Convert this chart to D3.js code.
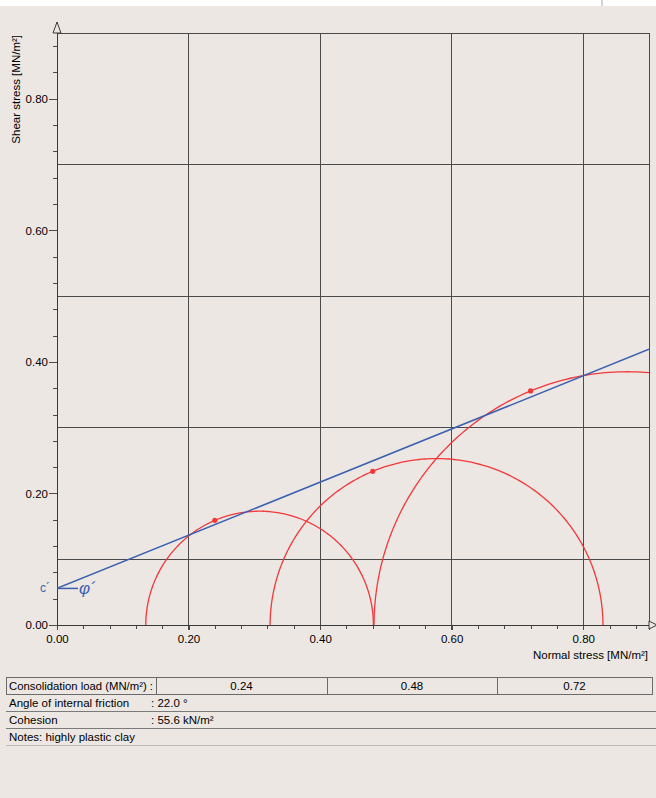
<!DOCTYPE html>
<html><head><meta charset="utf-8">
<script src="https://cdn.jsdelivr.net/npm/d3@7"></script>
<style>
html,body{margin:0;padding:0;background:#ece7e3;}
svg{display:block;}
text{font-family:"Liberation Sans",Arial,Helvetica,sans-serif;}
</style></head><body>
<script>
// ---- data ----
const consolidationLoads = [0.24, 0.48, 0.72];      // MN/m²
const sigma3 = [0.135, 0.324, 0.482];               // minor principal stress (circle left)
const sigma1 = [0.481, 0.830, 1.252];               // major principal stress (circle right)
const cohesion = 0.0556;                            // MN/m²
const frictionAngle = 22.0;                         // degrees
const xTickLabels = [0.00, 0.20, 0.40, 0.60, 0.80];
const yTickLabels = [0.00, 0.20, 0.40, 0.60, 0.80];
const vGrid = [0.2, 0.4, 0.6, 0.8, 0.9];
const hGrid = [0.1, 0.3, 0.5, 0.7, 0.9];
const tableRows = [
  ["Angle of internal friction", ": 22.0 °"],
  ["Cohesion", ": 55.6 kN/m²"],
  ["Notes: highly plastic clay", ""]
];

const W = 656, H = 798;
const FS = "11.5px";
const svg = d3.select("body").append("svg").attr("width", W).attr("height", H);
svg.append("rect").attr("width", W).attr("height", H).attr("fill", "#ece7e3");
svg.append("rect").attr("width", W).attr("height", 6).attr("fill", "#ffffff");
svg.append("line").attr("x1",602).attr("x2",602).attr("y1",0).attr("y2",6).attr("stroke","#aaa");

const x = d3.scaleLinear().domain([0, 0.9]).range([57, 649]);
const y = d3.scaleLinear().domain([0, 0.9]).range([625, 33]);

// clip
svg.append("clipPath").attr("id","plot").append("rect")
  .attr("x", x(0)).attr("y", y(0.9)).attr("width", x(0.9)-x(0)).attr("height", y(0)-y(0.9));

// grid
const g = svg.append("g");
g.selectAll(".vg").data(vGrid).join("line")
  .attr("x1", d=>x(d)).attr("x2", d=>x(d)).attr("y1", y(0)+5).attr("y2", y(0.9))
  .attr("stroke", "#4a4a4a").attr("stroke-width", 1).attr("shape-rendering","crispEdges");
g.selectAll(".hg").data(hGrid).join("line")
  .attr("x1", x(0)).attr("x2", x(0.9)).attr("y1", d=>y(d)).attr("y2", d=>y(d))
  .attr("stroke", "#4a4a4a").attr("stroke-width", 1).attr("shape-rendering","crispEdges");

// axes
const xAxisMinor = d3.axisBottom(x).tickValues(d3.range(0, 0.9, 0.04)).tickSize(4).tickFormat("");
const xAxis = d3.axisBottom(x).tickValues(xTickLabels).tickSize(5).tickFormat(d3.format(".2f"));
const yAxisMinor = d3.axisLeft(y).tickValues(d3.range(0, 0.9, 0.04)).tickSize(4).tickFormat("");
const yAxis = d3.axisLeft(y).tickValues(yTickLabels).tickSize(8).tickFormat(d3.format(".2f"));

function styleAx(sel){
  sel.select(".domain").remove();
  sel.selectAll("line").attr("stroke","#4a4a4a").attr("shape-rendering","crispEdges");
  sel.selectAll("text").attr("fill","#000").style("font-size",FS);
}
svg.append("g").attr("transform",`translate(0,${y(0)})`).call(xAxisMinor).call(styleAx);
svg.append("g").attr("transform",`translate(0,${y(0)})`).call(xAxis).call(styleAx)
  .selectAll("text").attr("dy","0.85em");
svg.append("g").attr("transform",`translate(${x(0)},0)`).call(yAxisMinor).call(styleAx);
svg.append("g").attr("transform",`translate(${x(0)},0)`).call(yAxis).call(styleAx)
  .selectAll("text").attr("x",-9);

// axis lines
svg.append("line").attr("x1",x(0)).attr("x2",x(0)).attr("y1",y(0)).attr("y2",22)
  .attr("stroke","#3a3a3a").attr("shape-rendering","crispEdges");
svg.append("line").attr("x1",x(0)).attr("x2",656).attr("y1",y(0)).attr("y2",y(0))
  .attr("stroke","#3a3a3a").attr("shape-rendering","crispEdges");
// arrows
svg.append("path").attr("d",`M${x(0)-4},${y(0.9)} L${x(0)},${y(0.9)-11} L${x(0)+4},${y(0.9)} Z`)
  .attr("fill","#ece7e3").attr("stroke","#3a3a3a").attr("stroke-width",1);
svg.append("path").attr("d",`M${x(0.9)},${y(0)-4} L${x(0.9)+8},${y(0)} L${x(0.9)},${y(0)+4} Z`)
  .attr("fill","#ece7e3").attr("stroke","#3a3a3a").attr("stroke-width",1);

// axis titles
svg.append("text").attr("transform","translate(19.5,35) rotate(-90)").attr("text-anchor","end")
  .style("font-size",FS).attr("fill","#000").text("Shear stress [MN/m²]");
svg.append("text").attr("x",648).attr("y",659).attr("text-anchor","end")
  .style("font-size",FS).attr("fill","#000").text("Normal stress [MN/m²]");

// Mohr circles
const plot = svg.append("g").attr("clip-path","url(#plot)");
const circles = sigma3.map((s3,i)=>({c:(s3+sigma1[i])/2, r:(sigma1[i]-s3)/2}));
const angles = d3.range(0, 181, 1).map(a=>a*Math.PI/180);
const line = d3.line().x(d=>x(d[0])).y(d=>y(d[1]));
plot.selectAll(".circ").data(circles).join("path")
  .attr("d", c => line(angles.map(a=>[c.c - c.r*Math.cos(a), c.r*Math.sin(a)])))
  .attr("fill","none").attr("stroke","#f2383a").attr("stroke-width",1.3);

// points at consolidation loads
plot.selectAll(".pt").data(circles).join("circle")
  .attr("cx",(c,i)=>x(consolidationLoads[i]))
  .attr("cy",(c,i)=>y(Math.sqrt(c.r*c.r - Math.pow(consolidationLoads[i]-c.c,2))))
  .attr("r",2.6).attr("fill","#f2383a");

// failure envelope
const tanPhi = Math.tan(frictionAngle*Math.PI/180);
plot.append("path").attr("d", line([[0,cohesion],[0.9,cohesion+0.9*tanPhi]]))
  .attr("stroke","#3a5fb0").attr("stroke-width",1.5).attr("fill","none");

// c' and phi' annotation
svg.append("line").attr("x1",x(0)).attr("x2",x(0)+21).attr("y1",y(cohesion)).attr("y2",y(cohesion))
  .attr("stroke","#3a5fb0").attr("stroke-width",1.5);
svg.append("text").attr("x",40).attr("y",y(cohesion)+4).style("font-size","12px")
  .attr("fill","#3a5fb0").text("c´");
svg.append("text").attr("x",x(0)+22).attr("y",y(cohesion)+6).style("font-size","17px")
  .style("font-style","italic").attr("fill","#3a5fb0").text("φ´");

// table
const t = svg.append("g");
const rowTop = 677, rowH = 17;
t.append("rect").attr("x",6).attr("y",rowTop).attr("width",646).attr("height",rowH)
  .attr("fill","none").attr("stroke","#6a6a6a").attr("shape-rendering","crispEdges");
const cellX = [156, 327, 497, 652];
cellX.slice(0,3).forEach(cx=>t.append("line").attr("x1",cx).attr("x2",cx).attr("y1",rowTop).attr("y2",rowTop+rowH)
  .attr("stroke","#6a6a6a").attr("shape-rendering","crispEdges"));
t.append("text").attr("x",9).attr("y",rowTop+12.5).style("font-size",FS).attr("fill","#000")
  .attr("textLength",144).attr("lengthAdjust","spacingAndGlyphs")
  .text("Consolidation load (MN/m²) :");
t.selectAll(".cl").data(consolidationLoads).join("text")
  .attr("x",(d,i)=>(cellX[i]+cellX[i+1])/2).attr("y",rowTop+12.5).attr("text-anchor","middle")
  .style("font-size",FS).attr("fill","#000").text(d=>d.toFixed(2));
tableRows.forEach((r,i)=>{
  const ty = rowTop + rowH*(i+1);
  t.append("line").attr("x1",6).attr("x2",656).attr("y1",ty+rowH).attr("y2",ty+rowH)
    .attr("stroke", i===2 ? "#bdb8b4" : "#7a7a7a").attr("shape-rendering","crispEdges");
  t.append("text").attr("x",9).attr("y",ty+12.5).style("font-size",FS).attr("fill","#000").text(r[0]);
  if (r[1]) t.append("text").attr("x",151).attr("y",ty+12.5).style("font-size",FS).attr("fill","#000").text(r[1]);
});
</script>
</body></html>
